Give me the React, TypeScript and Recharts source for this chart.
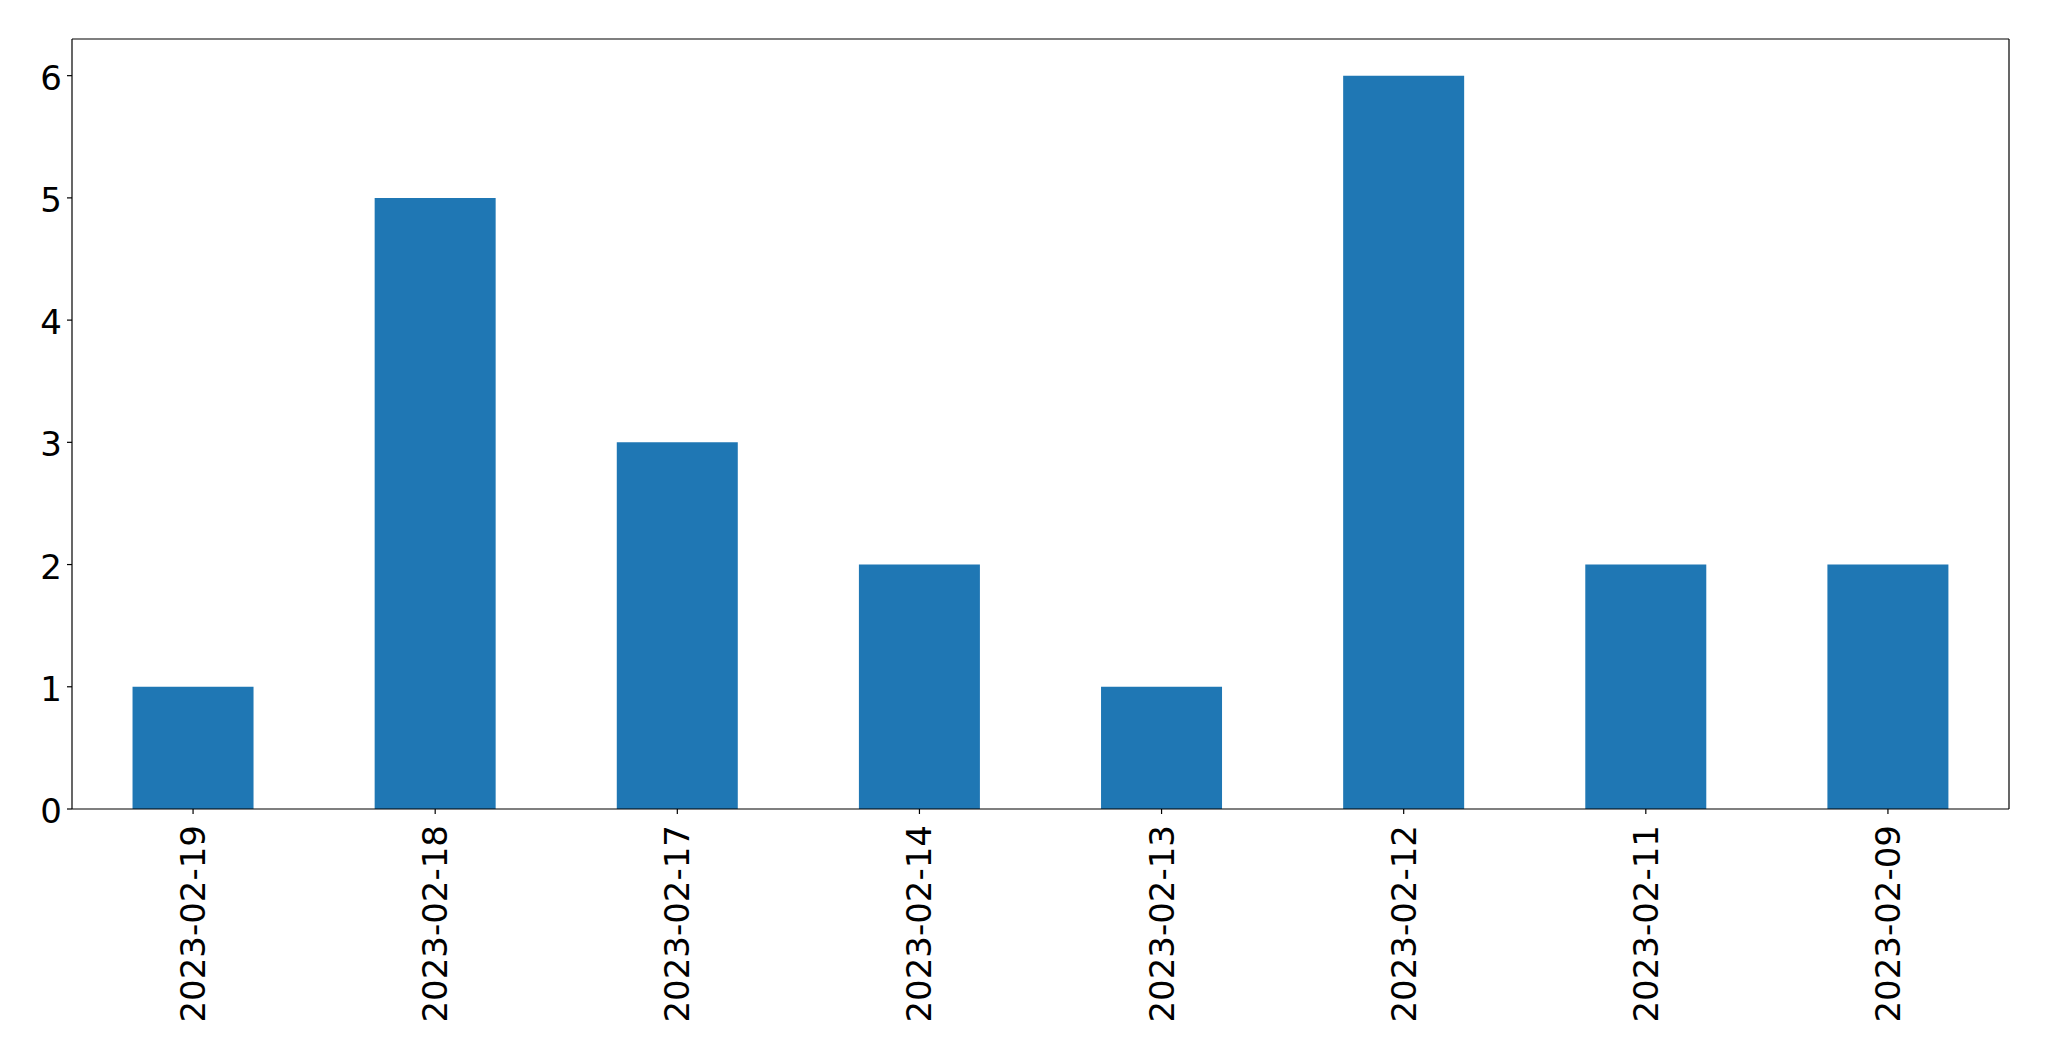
import React from 'react';
import { BarChart, Bar, XAxis, YAxis } from 'recharts';

const categories = ['2023-02-19', '2023-02-18', '2023-02-17', '2023-02-14', '2023-02-13', '2023-02-12', '2023-02-11', '2023-02-09'];
const counts = [1, 5, 3, 2, 1, 6, 2, 2];
const yTicks = [0, 1, 2, 3, 4, 5, 6];

const data = categories.map((c, i) => ({ date: c, count: counts[i] }));

const FONT = 'DejaVu Sans';
const FS = 34;

const XTick = (props: any) => {
  const { x, y, payload } = props;
  return (
    <text
      x={0}
      y={0}
      transform={`translate(${x},${y + 6}) rotate(-90)`}
      textAnchor="end"
      dominantBaseline="central"
      fontFamily={FONT}
      fontSize={FS}
      fill="#000"
    >
      {payload.value}
    </text>
  );
};

const YTick = (props: any) => {
  const { x, y, payload } = props;
  return (
    <text
      x={x}
      y={y + 2}
      textAnchor="end"
      dominantBaseline="central"
      fontFamily={FONT}
      fontSize={FS}
      fill="#000"
    >
      {payload.value}
    </text>
  );
};

export default function App() {
  return (
    <div style={{ position: 'absolute', left: 0, top: 0, width: 2049, height: 1061, background: '#fff' }}>
      <BarChart
        width={2049}
        height={1061}
        data={data}
        margin={{ top: 38, right: 39, bottom: 0, left: 0 }}
        barCategoryGap="25%"
      >
        <XAxis
          dataKey="date"
          height={252}
          interval={0}
          tick={<XTick />}
          tickSize={5}
          tickMargin={5}
          axisLine={{ stroke: '#000', strokeWidth: 1.2 }}
          tickLine={{ stroke: '#000', strokeWidth: 1.2 }}
        />
        <XAxis
          xAxisId="top"
          dataKey="date"
          orientation="top"
          height={1}
          tick={false}
          tickLine={false}
          axisLine={{ stroke: '#000', strokeWidth: 1.2 }}
        />
        <YAxis
          width={72}
          domain={[0, 6.3]}
          ticks={yTicks}
          interval={0}
          tickSize={5}
          tickMargin={5}
          allowDataOverflow
          axisLine={{ stroke: '#000', strokeWidth: 1.2 }}
          tickLine={{ stroke: '#000', strokeWidth: 1.2 }}
          tick={<YTick />}
        />
        <YAxis
          yAxisId="right"
          orientation="right"
          width={1}
          domain={[0, 6.3]}
          tick={false}
          tickLine={false}
          axisLine={{ stroke: '#000', strokeWidth: 1.2 }}
        />
        <Bar dataKey="count" fill="#1f77b4" isAnimationActive={false} />
      </BarChart>
    </div>
  );
}
